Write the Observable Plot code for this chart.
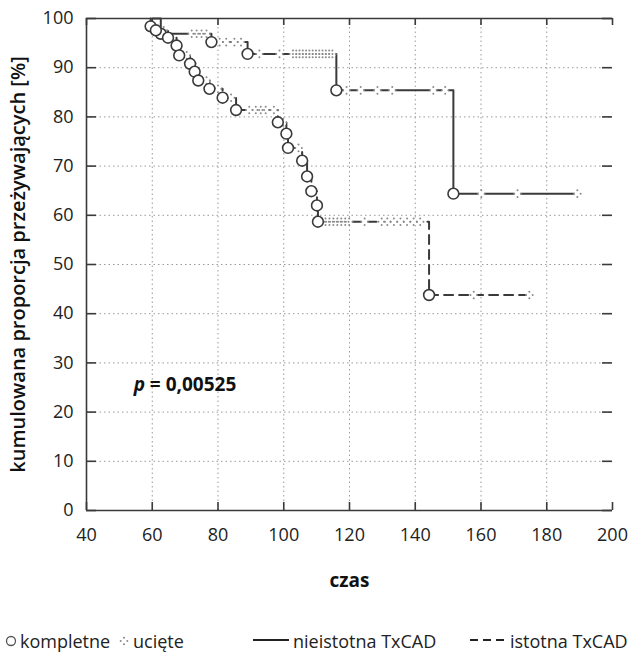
<!DOCTYPE html>
<html><head><meta charset="utf-8">
<script src="https://cdn.jsdelivr.net/npm/d3@7"></script>
<script src="https://cdn.jsdelivr.net/npm/@observablehq/plot@0.6"></script>
<style>
body{margin:0;background:#fff;font-family:"Open Sans",sans-serif;color:#222;}
#wrap{position:relative;width:633px;}
#legend{position:relative;width:633px;height:35px;font-size:18px;}
#legend .it{position:absolute;top:3px;height:35px;display:flex;align-items:center;white-space:nowrap;}
</style></head><body>
<div id="wrap"><div id="chart"></div><div id="legend"></div></div>
<script>
// ---- data ----
const xTicks = [40, 60, 80, 100, 120, 140, 160, 180, 200];
const yTicks = [0, 10, 20, 30, 40, 50, 60, 70, 80, 90, 100];
const xGrid = [60, 80, 100, 120, 140, 160, 180];
const yGrid = [10, 20, 30, 40, 50, 60, 70, 80, 90];

// nieistotna TxCAD (solid)
const solidStart = 60;
const solidEnd = 189.3;
const solidEventT = [62.6, 78.0, 89.0, 116.0, 151.6];
const solidEventS = [96.9, 95.2, 92.8, 85.4, 64.4];
const solidCensT = [72, 73.5, 75, 76.5, 80.5, 82.5, 85, 87, 92.6, 98.7,
  102.8, 103.8, 104.8, 105.8, 106.8, 107.8, 108.8, 109.8, 110.8, 111.8, 112.8, 113.8, 114.8,
  119.1, 123.4, 128.5, 133, 145.5, 149.1, 160.1, 171.1, 189.3];

// istotna TxCAD (dashed)
const dashStart = 59.5;
const dashEnd = 174.7;
const dashEventT = [59.5, 61.1, 64.8, 67.4, 68.2, 71.5, 72.9, 74.0, 77.4, 81.4, 85.5, 98.2, 100.8, 101.3, 105.6, 107.1, 108.4, 110.1, 110.4, 144.2];
const dashEventS = [98.4, 97.6, 96.1, 94.5, 92.5, 90.8, 89.2, 87.4, 85.7, 83.9, 81.4, 78.9, 76.6, 73.7, 71.1, 67.9, 64.9, 62.0, 58.7, 43.8];
const dashCensT = [63.5, 70.5, 72.2, 76.5, 80.0, 84.0, 89.5, 91.5, 93.0, 94.5, 97.0, 99.8, 104.5,
  111.5, 112.7, 113.9, 115.1, 116.3, 117.5, 118.7, 119.9, 124.6, 129.8, 131.5, 133.5, 135.5, 137.5, 139.5, 141.5,
  157.8, 174.7];

const pLabel = [{t: 54.4, s: 25.6}];
const yLabel = "kumulowana proporcja przeżywających [%]";
const xLabel = "czas";
const legendLabels = ["kompletne", "ucięte", "nieistotna TxCAD", "istotna TxCAD"];

// ---- derived tables ----
function stepLine(start, evT, evS, end) {
  const pts = [{t: start, s: 100}];
  evT.forEach((t, i) => pts.push({t, s: evS[i]}));
  pts.push({t: end, s: evS[evS.length - 1]});
  return pts;
}
function levelAt(evT, evS, t) {
  let s = 100;
  evT.forEach((e, i) => { if (e <= t) s = evS[i]; });
  return s;
}
const solidLine = stepLine(solidStart, solidEventT, solidEventS, solidEnd);
const dashLine = stepLine(dashStart, dashEventT, dashEventS, dashEnd);
const events = [
  ...solidEventT.map((t, i) => ({t, s: solidEventS[i]})),
  ...dashEventT.map((t, i) => ({t, s: dashEventS[i]}))
];
const censored = [
  ...solidCensT.map(t => ({t, s: levelAt(solidEventT, solidEventS, t)})),
  ...dashCensT.map(t => ({t, s: levelAt(dashEventT, dashEventS, t)}))
];

const W = 633, H = 620, mL = 86, mR = 21, mT = 18, mB = 110;
const pw = W - mL - mR, ph = H - mT - mB;
const dark = "#3a3a3a";
const censorColor = "#8a8a8a";

function censorMarks(data) {
  const o = 3.3;
  return [
    Plot.dot(data, {x: "t", y: "s", r: 3.2, fill: "white", stroke: "none"}),
    Plot.dot(data, {x: "t", y: "s", r: 1, fill: censorColor, dx: -o}),
    Plot.dot(data, {x: "t", y: "s", r: 1, fill: censorColor, dx: o}),
    Plot.dot(data, {x: "t", y: "s", r: 1, fill: censorColor, dy: -o}),
    Plot.dot(data, {x: "t", y: "s", r: 1, fill: censorColor, dy: o})
  ];
}

const chart = Plot.plot({
  width: W, height: H,
  marginLeft: mL, marginRight: mR, marginTop: mT, marginBottom: mB,
  style: {fontFamily: "Open Sans, sans-serif", fontSize: "18px", color: "#222", background: "white"},
  x: {domain: [40, 200], axis: null},
  y: {domain: [0, 100], axis: null},
  marks: [
    Plot.gridX(xGrid, {stroke: "#9a9a9a", strokeOpacity: 1, strokeWidth: 1, strokeDasharray: "1.5,3"}),
    Plot.gridY(yGrid, {stroke: "#9a9a9a", strokeOpacity: 1, strokeWidth: 1, strokeDasharray: "1.5,3"}),
    // frame (left, top, bottom)
    Plot.ruleX([40], {stroke: dark, strokeWidth: 1.6}),
    Plot.ruleY([0, 100], {stroke: dark, strokeWidth: 1.6}),
    // inward ticks
    Plot.ruleX(xTicks, {stroke: dark, strokeWidth: 1.6, insetTop: ph - 8}),
    Plot.ruleX(xTicks, {stroke: dark, strokeWidth: 1.6, insetBottom: ph - 7}),
    Plot.ruleY(yTicks, {stroke: dark, strokeWidth: 1.6, insetRight: pw - 10}),
    Plot.ruleY(yTicks, {stroke: dark, strokeWidth: 1.6, insetLeft: pw - 10}),
    // tick labels
    Plot.text(xTicks, {x: d => d, frameAnchor: "bottom", dy: 25, text: d => String(d), fontSize: 18, fill: "#222", lineAnchor: "middle"}),
    Plot.text(yTicks, {y: d => d, frameAnchor: "left", dx: -13, text: d => String(d), fontSize: 18, fill: "#222", textAnchor: "end"}),
    // curves
    Plot.line(solidLine, {x: "t", y: "s", curve: "step-after", stroke: dark, strokeWidth: 2}),
    Plot.line(dashLine, {x: "t", y: "s", curve: "step-after", stroke: dark, strokeWidth: 2, strokeDasharray: "9,6"}),
    ...censorMarks(censored),
    Plot.dot(events, {x: "t", y: "s", r: 5.4, fill: "white", stroke: dark, strokeWidth: 1.6}),
    // p-value
    Plot.text(pLabel, {x: "t", y: "s", text: () => "p", textAnchor: "start", fontStyle: "italic", fontWeight: "bold", fontSize: 19, fill: "#111"}),
    Plot.text(pLabel, {x: "t", y: "s", text: () => "= 0,00525", textAnchor: "start", dx: 16, fontWeight: "bold", fontSize: 19, fill: "#111"}),
    // axis titles
    Plot.text([yLabel], {frameAnchor: "left", rotate: -90, dx: -68, textAnchor: "middle", fontSize: 20, fontWeight: 600, fill: "#111"}),
    Plot.text([xLabel], {frameAnchor: "bottom", dy: 76, textAnchor: "middle", fontSize: 19, fontWeight: "bold", fill: "#111"})
  ]
});
document.getElementById("chart").appendChild(chart);

// legend
const lg = document.getElementById("legend");
function item(left, html) {
  const d = document.createElement("div");
  d.className = "it"; d.style.left = left + "px"; d.innerHTML = html; lg.appendChild(d);
}
item(4, `<svg width="14" height="14"><circle cx="7" cy="7" r="4.5" fill="white" stroke="#555" stroke-width="1.3"/></svg><span style="margin-left:2px">${legendLabels[0]}</span>`);
item(117, `<svg width="14" height="14"><g fill="${censorColor}"><circle cx="3.7" cy="7" r="1"/><circle cx="10.3" cy="7" r="1"/><circle cx="7" cy="3.7" r="1"/><circle cx="7" cy="10.3" r="1"/></g></svg><span style="margin-left:2px">${legendLabels[1]}</span>`);
item(252, `<svg width="38" height="14"><line x1="1" y1="6" x2="37" y2="6" stroke="#222" stroke-width="2"/></svg><span style="margin-left:3px">${legendLabels[2]}</span>`);
item(469, `<svg width="38" height="14"><line x1="1" y1="6" x2="37" y2="6" stroke="#222" stroke-width="2" stroke-dasharray="8,5"/></svg><span style="margin-left:3px">${legendLabels[3]}</span>`);
</script>
</body></html>
